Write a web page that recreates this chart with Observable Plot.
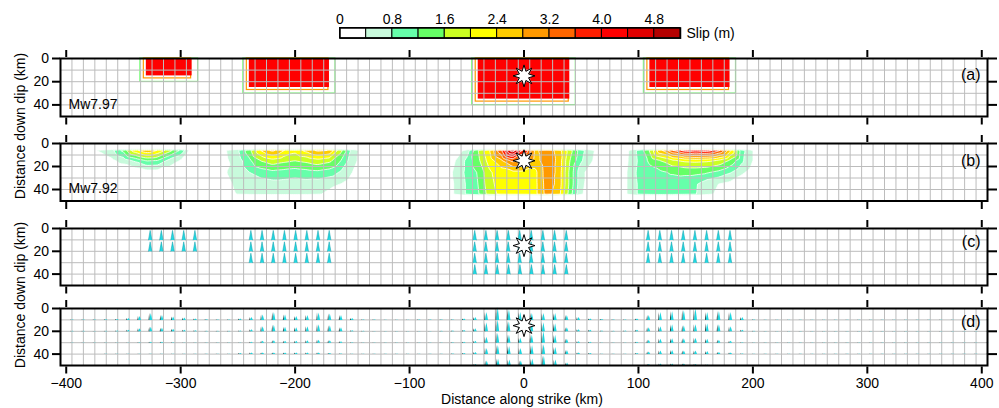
<!DOCTYPE html>
<html><head><meta charset="utf-8">
<script src="https://cdn.jsdelivr.net/npm/d3@7"></script>
<script src="https://cdn.jsdelivr.net/npm/@observablehq/plot@0.6"></script>
<style>
body{margin:0;background:#fff;}
#chart{position:relative;width:999px;height:408px;overflow:hidden;background:#fff;}
</style></head><body><div id="chart"></div>
<script>
// ---------- data ----------
const strikeKm = d3.range(-400, 401, 10);          // subfault centres along strike (km)
const dipKm = [5, 15, 25, 35, 45];                 // subfault centres down dip (km)
const tickKmX = [-400, -300, -200, -100, 0, 100, 200, 300, 400];
const tickKmY = [0, 20, 40];
const gridKmX = d3.range(-395, 400, 10);
const gridKmY = [10, 20, 30, 40];

const slipThresholds = [0.4, 0.8, 1.2, 1.6, 2.0, 2.4, 2.8, 3.2, 3.6, 4.0, 4.4, 4.8];
const slipColors = ["#ffffff", "#c8fadc", "#66ffaa", "#66ff66", "#ccff22", "#ffff00", "#ffcc00",
                    "#ff9900", "#ff6600", "#ff1e00", "#ff0000", "#e00000", "#b40000"];
const colorbarMax = 5.2;
const colorbarTicks = [0, 0.8, 1.6, 2.4, 3.2, 4.0, 4.8];

const panelLabels = ["(a)", "(b)", "(c)", "(d)"];
const magnitudes = ["Mw7.97", "Mw7.92"];
const hypocenter = {x: 0, depth: 15};

// (a) input model: four uniform-slip asperities
const aspStart = [-330, -240, -40, 110];
const aspEnd = [-290, -170, 40, 180];
const aspBottom = [15, 25, 35, 25];
const inputSlip = 4.2;

// (b) inverted slip (m), one row per dip level, x = -400..400 step 10
const slipB05 = [
  0, 0.1, 0.3, 0.5, 0.75, 1.4, 2.4, 2.9, 2.5, 1.9,
  1.25, 0.2, 0.05, 0.1, 0.4, 0.75, 1.5, 2.5, 3.0, 2.5,
  2.2, 2.6, 3.0, 2.9, 1.8, 0.7, 0.2, 0, 0, 0,
  0, 0, 0, 0, 0.15, 0.5, 1.6, 2.4, 3.6, 5.3,
  4.0, 2.7, 3.1, 2.6, 1.8, 0.95, 0.45, 0.15, 0.05, 0.3,
  0.9, 1.7, 2.9, 3.8, 4.4, 4.6, 4.45, 3.9, 2.6, 1.0,
  0.4, 0.1, 0, 0, 0, 0, 0, 0, 0, 0,
  0, 0, 0, 0, 0, 0, 0, 0, 0, 0,
  0];
const slipB15 = [
  0, 0, 0, 0.1, 0.3, 0.55, 0.85, 1.2, 1.15, 0.65,
  0.35, 0.1, 0, 0.05, 0.35, 0.6, 1.1, 1.6, 1.85, 1.7,
  1.6, 1.7, 1.85, 1.7, 1.2, 0.55, 0.2, 0, 0, 0,
  0, 0, 0, 0.1, 0.4, 0.9, 1.5, 2.2, 2.7, 3.3,
  3.0, 2.6, 3.1, 2.7, 1.6, 0.85, 0.4, 0.1, 0, 0.35,
  0.85, 1.3, 1.6, 1.9, 2.05, 2.1, 2.05, 1.9, 1.5, 0.9,
  0.4, 0.1, 0, 0, 0, 0, 0, 0, 0, 0,
  0, 0, 0, 0, 0, 0, 0, 0, 0, 0,
  0];
const slipB25 = [
  0, 0, 0, 0, 0, 0, 0.1, 0.2, 0.2, 0.15,
  0, 0, 0, 0, 0.4, 0.5, 0.8, 1.0, 1.1, 1.05,
  1.0, 1.05, 1.1, 1.0, 0.75, 0.4, 0.15, 0, 0, 0,
  0, 0, 0, 0.1, 0.5, 0.9, 1.25, 1.95, 2.2, 2.3,
  2.3, 2.3, 3.05, 2.7, 1.5, 0.5, 0.2, 0, 0, 0.4,
  0.9, 1.05, 1.15, 1.25, 1.3, 1.3, 1.25, 1.1, 0.85, 0.5,
  0.2, 0, 0, 0, 0, 0, 0, 0, 0, 0,
  0, 0, 0, 0, 0, 0, 0, 0, 0, 0,
  0];
const slipB35 = [
  0, 0, 0, 0, 0, 0, 0, 0, 0, 0,
  0, 0, 0, 0, 0.35, 0.45, 0.55, 0.6, 0.65, 0.65,
  0.6, 0.65, 0.6, 0.5, 0.4, 0.2, 0, 0, 0, 0,
  0, 0, 0, 0.1, 0.45, 0.85, 1.2, 1.9, 2.15, 2.2,
  2.25, 2.3, 3.0, 2.7, 1.5, 0.5, 0.15, 0, 0, 0.4,
  0.85, 0.95, 1.0, 1.0, 0.95, 0.85, 0.55, 0.4, 0.3, 0.1,
  0, 0, 0, 0, 0, 0, 0, 0, 0, 0,
  0, 0, 0, 0, 0, 0, 0, 0, 0, 0,
  0];
const slipB45 = [
  0, 0, 0, 0, 0, 0, 0, 0, 0, 0,
  0, 0, 0, 0, 0.15, 0.42, 0.48, 0.5, 0.5, 0.5,
  0.5, 0.48, 0.42, 0.3, 0.15, 0, 0, 0, 0, 0,
  0, 0, 0, 0.05, 0.45, 0.85, 1.15, 1.8, 2.1, 2.15,
  2.2, 2.3, 2.95, 2.6, 1.4, 0.45, 0.1, 0, 0.1, 0.4,
  0.85, 0.95, 1.0, 0.95, 0.9, 0.82, 0.5, 0.3, 0.1, 0,
  0, 0, 0, 0, 0, 0, 0, 0, 0, 0,
  0, 0, 0, 0, 0, 0, 0, 0, 0, 0,
  0];

// (d) inverted peak slip-rate (relative units), one row per dip level
const rateD05 = [
  0.3, 0.3, 0.3, 0.7, 1, 2, 4, 7, 5, 3.5,
  2.5, 1.5, 0.7, 0.3, 0.3, 1.3, 3, 5.5, 8, 5.5,
  4, 5, 7.5, 6.5, 5, 2, 0.5, 0.3, 0.2, 0.2,
  0.2, 0.3, 0.3, 0.3, 0.5, 1.5, 3, 8, 13, 11,
  8, 7, 7, 7, 5, 3, 1.5, 1, 0.5, 0.5,
  1.5, 5, 8, 9, 10, 12, 8, 9, 8, 3,
  0.5, 0.1, 0.1, 0.1, 0.1, 0.1, 0.1, 0.1, 0.1, 0.1,
  0.1, 0.1, 0.1, 0.1, 0.1, 0.1, 0.1, 0.1, 0.1, 0.1,
  0.1];
const rateD15 = [
  0.5, 0.5, 0.3, 0.5, 0.7, 1.5, 3, 4.5, 3.5, 2.5,
  1.5, 1, 0.5, 0.5, 0.5, 0.7, 2, 5, 6.5, 4.5,
  4, 5, 7, 6, 4, 1, 0.5, 0.3, 0.3, 0.3,
  0.3, 0.3, 0.4, 0.5, 0.7, 1.2, 3, 9, 12, 10,
  8, 9, 9, 8, 4, 2, 1.5, 0.8, 0.5, 0.7,
  1.5, 4, 5, 7, 6, 7, 8, 7, 5, 1.5,
  0.5, 0.3, 0.3, 0.3, 0.3, 0.3, 0.3, 0.3, 0.3, 0.3,
  0.3, 0.3, 0.3, 0.3, 0.3, 0.3, 0.3, 0.3, 0.3, 0.3,
  0.3];
const rateD25 = [
  0.1, 0.1, 0.1, 0.1, 0.1, 0.1, 0.5, 1, 1, 0.5,
  0.1, 0.1, 0.1, 0.1, 0.1, 0.3, 1, 2, 2.5, 2,
  2, 2.5, 3, 2.5, 1.5, 0.5, 0.1, 0.1, 0.1, 0.1,
  0.1, 0.1, 0.1, 0.1, 0.5, 1, 2, 6, 10, 8,
  5, 8, 12, 8, 4, 1.5, 1, 0.3, 0.3, 0.3,
  1, 3, 4, 4.5, 4.5, 5, 4, 3, 2, 0.5,
  0.1, 0.1, 0.1, 0.1, 0.1, 0.1, 0.1, 0.1, 0.1, 0.1,
  0.1, 0.1, 0.1, 0.1, 0.1, 0.1, 0.1, 0.1, 0.1, 0.1,
  0.1];
const rateD35 = [
  0.2, 0.2, 0.2, 0.4, 0.4, 0.4, 0.4, 0.4, 0.4, 0.4,
  0.4, 0.4, 0.4, 0.4, 0.4, 1, 1.5, 1.5, 1.5, 1.5,
  1.5, 1.5, 1.5, 1, 0.7, 0.4, 0.4, 0.4, 0.4, 0.4,
  0.4, 0.4, 0.4, 0.4, 0.5, 1, 2, 6, 9, 8,
  6, 9, 10, 7, 4, 1.5, 1, 0.4, 0.4, 0.4,
  1, 2.5, 3.5, 4, 3.5, 3.5, 3, 2, 1.5, 0.5,
  0.3, 0.3, 0.3, 0.3, 0.3, 0.3, 0.3, 0.3, 0.3, 0.3,
  0.3, 0.3, 0.3, 0.3, 0.3, 0.3, 0.3, 0.3, 0.3, 0.3,
  0.3];
const rateD45 = [
  0.2, 0.2, 0.2, 0.2, 0.2, 0.2, 0.2, 0.2, 0.2, 0.2,
  0.2, 0.2, 0.2, 0.2, 0.2, 0.2, 0.2, 0.7, 0.7, 0.7,
  0.7, 0.7, 0.7, 0.2, 0.2, 0.2, 0.2, 0.2, 0.2, 0.2,
  0.2, 0.2, 0.2, 0.2, 0.2, 0.2, 1.5, 5, 7, 6,
  5, 7, 10, 6, 3, 1, 0.2, 0.2, 0.2, 0.2,
  0.5, 1.5, 2, 2, 2, 1.5, 1, 0.5, 0.1, 0.1,
  0.1, 0.1, 0.1, 0.1, 0.1, 0.1, 0.1, 0.1, 0.1, 0.1,
  0.1, 0.1, 0.1, 0.1, 0.1, 0.1, 0.1, 0.1, 0.1, 0.1,
  0.1];
const inputRate = 9.5;          // uniform peak rate of the input model
const ruptureVelocity = 2.5;    // km/s, sets onset of each time function
const cellWindow = 180;         // seconds shown across one 10-km cell

const xTitle = "Distance along strike (km)";
const yTitle = "Distance down dip (km)";

// ---------- derived tables ----------
const asperities = aspStart.map((s, i) => ({x1: s, x2: aspEnd[i], y2: aspBottom[i], slip: inputSlip}));
const slipRows = [slipB05, slipB15, slipB25, slipB35, slipB45];
const slipNodes = dipKm.flatMap((d, j) => strikeKm.map((x, k) => ({x, depth: d, slip: slipRows[j][k]})));
const rateRows = [rateD05, rateD15, rateD25, rateD35, rateD45];
const rateNodes = dipKm.flatMap((d, j) => strikeKm.map((x, k) => ({x, depth: d, rate: rateRows[j][k]})));
const inputNodes = asperities.flatMap(a =>
  strikeKm.filter(x => x >= a.x1 && x <= a.x2).flatMap(x =>
    dipKm.filter(d => d <= a.y2).map(d => ({x, depth: d, rate: inputRate}))));
const onsetX = d => d.x - 4 + 10 * (Math.hypot(d.x - hypocenter.x, d.depth - hypocenter.depth) / ruptureVelocity) / cellWindow;
const baseY = d => d.depth + 5;
const cbBins = [0, ...slipThresholds].map((lo, i) => ({lo, hi: i < slipThresholds.length ? slipThresholds[i] : colorbarMax}));

// ---------- drawing ----------
const fontFamily = '"Liberation Sans", Arial, Helvetica, sans-serif';
const chart = document.getElementById("chart");
const starSymbol = {
  draw(context, size) {
    const R = Math.sqrt(size / Math.PI), r = R * 0.45, n = 8;
    for (let i = 0; i < 2 * n; i++) {
      const a = Math.PI * i / n - Math.PI / 2, rr = i % 2 ? r : R;
      const px = rr * Math.cos(a), py = rr * Math.sin(a);
      if (i) context.lineTo(px, py); else context.moveTo(px, py);
    }
    context.closePath();
  }
};
const styleBase = {fontFamily, fontSize: "14px", background: "transparent", overflow: "visible", color: "black"};

function place(svg, top) {
  svg.style.position = "absolute";
  svg.style.left = "0px";
  svg.style.top = top + "px";
  chart.appendChild(svg);
}

const panelTops = [58, 142.5, 227.5, 307.5];
const panelHeights = [58, 57.5, 57, 57];
const labelDy = [16, 17, 13.5, 13.5];
const gridMarks = [
  Plot.ruleX(gridKmX, {stroke: "#bcbcbc", strokeWidth: 1}),
  Plot.ruleY(gridKmY, {stroke: "#bcbcbc", strokeWidth: 1})
];
const starMark = Plot.dot([hypocenter], {x: "x", y: "depth", symbol: starSymbol, r: 11, fill: "white", stroke: "black", strokeWidth: 1});

function panel(i, content, {bottomLabels = false, extra = {}} = {}) {
  const mt = 14, mb = bottomLabels ? 32 : 14;
  const marks = [
    ...content,
    Plot.frame({stroke: "black", strokeWidth: 2}),
    Plot.axisX({anchor: "top", ticks: tickKmX, tickSize: 7, dy: -2, strokeWidth: 2, tickFormat: () => "", label: null}),
    Plot.axisX({anchor: "bottom", ticks: tickKmX, tickSize: 7, dy: 1.5, tickPadding: 4, strokeWidth: 2,
                ...(bottomLabels ? {} : {tickFormat: () => ""}), label: null}),
    Plot.axisY({anchor: "left", ticks: tickKmY, tickSize: 8, tickPadding: 3.5, strokeWidth: 2, label: null}),
    Plot.axisY({anchor: "right", ticks: tickKmY, tickSize: 9, strokeWidth: 2, tickFormat: () => "", label: null}),
    Plot.text([panelLabels[i]], {text: d => d, frameAnchor: "top-right", dx: -7, dy: labelDy[i], textAnchor: "end", lineAnchor: "middle", fontSize: 16})
  ];
  if (i < magnitudes.length) {
    marks.push(Plot.text([magnitudes[i]], {text: d => d, frameAnchor: "bottom-left", dx: 8, dy: -12, textAnchor: "start", lineAnchor: "middle", fontSize: 14}));
  }
  const svg = Plot.plot({
    width: 999, height: mt + panelHeights[i] + mb,
    marginLeft: 60, marginRight: 12, marginTop: mt, marginBottom: mb,
    x: {domain: [-405, 405]},
    y: {domain: [0, 50], reverse: true},
    color: {type: "threshold", domain: slipThresholds, range: slipColors},
    ...extra,
    style: styleBase,
    marks
  });
  place(svg, panelTops[i] - mt);
}

// colour bar
place(Plot.plot({
  width: 999, height: 42,
  marginLeft: 339.5, marginRight: 319, marginTop: 27.5, marginBottom: 4.3,
  x: {domain: [0, colorbarMax]},
  color: {type: "threshold", domain: slipThresholds, range: slipColors},
  style: styleBase,
  marks: [
    Plot.rect(cbBins, {x1: "lo", x2: "hi", fill: "lo", stroke: "black", strokeWidth: 1}),
    Plot.frame({stroke: "black", strokeWidth: 1.5}),
    Plot.axisX({anchor: "top", ticks: colorbarTicks, tickSize: 0, tickPadding: 4.4, tickFormat: d => d === 0 ? "0" : d.toFixed(1), label: null}),
    Plot.text(["Slip (m)"], {text: d => d, frameAnchor: "right", dx: 6, textAnchor: "start", fontSize: 14})
  ]
}), 0);

// (a) input model
panel(0, [
  Plot.rect(asperities, {x1: "x1", x2: "x2", y1: 0, y2: "y2", fill: "none", stroke: "#7cfc7c", strokeWidth: 1.2, insetLeft: -6, insetRight: -6, insetBottom: -6}),
  Plot.rect(asperities, {x1: "x1", x2: "x2", y1: 0, y2: "y2", fill: "none", stroke: "#ff9900", strokeWidth: 1.2, insetLeft: -2.5, insetRight: 1, insetBottom: -2.5}),
  Plot.rect(asperities, {x1: "x1", x2: "x2", y1: 0, y2: "y2", fill: "slip"}),
  ...gridMarks,
  starMark
]);

// (b) inverted slip, contoured
panel(1, [
  Plot.contour(slipNodes, {x: "x", y: "depth", fill: "slip", thresholds: slipThresholds, interpolate: "barycentric", stroke: "white", strokeWidth: 0.8}),
  ...gridMarks,
  starMark
]);

// (c) input time functions
panel(2, [
  ...gridMarks,
  Plot.vector(inputNodes, {x: onsetX, y: baseY, length: inputRate, rotate: 0, anchor: "start", shape: "spike", r: 1.7,
                           fill: "#22d8e2", stroke: "#0f9fab", strokeWidth: 0.5}),
  starMark
]);

// (d) inverted time functions
panel(3, [
  ...gridMarks,
  Plot.vector(rateNodes, {x: onsetX, y: baseY, length: "rate", rotate: 0, anchor: "start", shape: "spike", r: 0.6,
                          fill: "#2a3c3c", stroke: "none", dx: -1}),
  Plot.vector(rateNodes, {x: onsetX, y: baseY, length: "rate", rotate: 0, anchor: "start", shape: "spike", r: 1.5,
                          fill: "#1cd6e0", stroke: "none", dx: 0.6}),
  starMark
], {bottomLabels: true, extra: {length: {domain: [0, 10], range: [0, 10]}}});

// axis titles
function addTitle(text, css) {
  const div = document.createElement("div");
  div.textContent = text;
  Object.assign(div.style, {position: "absolute", fontFamily, fontSize: "14px", lineHeight: "10px", whiteSpace: "nowrap", color: "#000"}, css);
  chart.appendChild(div);
}
addTitle(yTitle, {left: "20px", top: "126px", transform: "translate(-50%,-50%) rotate(-90deg)"});
addTitle(yTitle, {left: "20px", top: "295px", transform: "translate(-50%,-50%) rotate(-90deg)"});
addTitle(xTitle, {left: "522px", top: "393.5px", transform: "translateX(-50%)"});
</script></body></html>
